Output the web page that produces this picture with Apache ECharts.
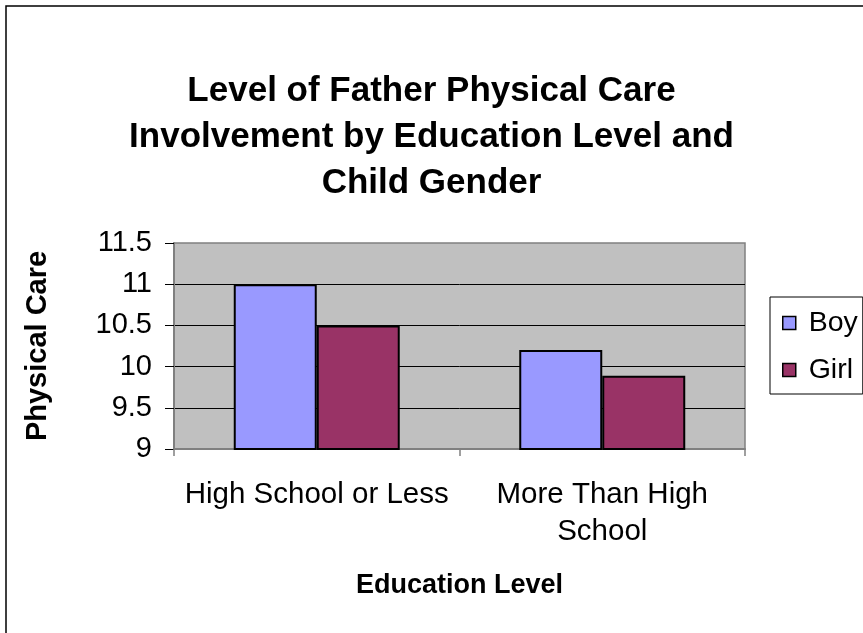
<!DOCTYPE html>
<html>
<head>
<meta charset="utf-8">
<script src="https://cdn.jsdelivr.net/npm/echarts@6/dist/echarts.min.js"></script>
<style>
html,body{margin:0;padding:0;background:#fff;}
#main{width:863px;height:633px;}
</style>
</head>
<body>
<div id="main"></div>
<script>
const categories = ['High School or Less', 'More Than High\nSchool'];
const boyValues = [11.0, 10.2];
const girlValues = [10.5, 9.89];
const seriesNames = ['Boy', 'Girl'];
const yMin = 9, yMax = 11.5, yInterval = 0.5;

const FONT = "'Liberation Sans', Arial, sans-serif";
const chart = echarts.init(document.getElementById('main'), null, {renderer: 'canvas'});
chart.setOption({
  animation: false,
  backgroundColor: '#ffffff',
  textStyle: {fontFamily: FONT, color: '#000'},
  title: {
    text: 'Level of Father Physical Care\nInvolvement by Education Level and\nChild Gender',
    left: 'center',
    top: 63,
    textStyle: {fontFamily: FONT, fontSize: 35, fontWeight: 'bold', color: '#000', lineHeight: 46}
  },
  graphic: [{
    type: 'rect',
    shape: {x: 6, y: 6, width: 900, height: 700},
    style: {fill: 'none', stroke: '#000', lineWidth: 1.5},
    silent: true, z: 100
  }],
  legend: {
    orient: 'vertical',
    left: 770,
    top: 297,
    padding: [11, 5, 9, 12],
    itemGap: 17,
    itemWidth: 13,
    itemHeight: 13,
    itemStyle: {borderColor: '#000', borderWidth: 1.5},
    borderColor: '#000',
    borderWidth: 1,
    icon: 'rect',
    formatter: function (n) { return ' ' + n; },
    textStyle: {fontFamily: FONT, fontSize: 28.5, color: '#000', lineHeight: 30},
    data: seriesNames
  },
  grid: {
    left: 174, right: 118, top: 243, bottom: 184,
    show: true, backgroundColor: '#C0C0C0', borderColor: '#808080', borderWidth: 1.5
  },
  xAxis: {
    type: 'category',
    data: categories,
    name: 'Education Level',
    nameLocation: 'middle',
    nameGap: 123,
    nameTextStyle: {fontFamily: FONT, fontSize: 27, fontWeight: 'bold', color: '#000'},
    axisLine: {lineStyle: {color: '#808080', width: 2}},
    axisTick: {show: true, length: 7, lineStyle: {color: '#808080', width: 1.5}},
    axisLabel: {fontFamily: FONT, fontSize: 29.5, color: '#000', margin: 27, lineHeight: 37, interval: 0, hideOverlap: false}
  },
  yAxis: {
    type: 'value',
    min: yMin, max: yMax, interval: yInterval,
    name: 'Physical Care',
    nameLocation: 'middle',
    nameGap: 122,
    nameRotate: 90,
    nameTextStyle: {fontFamily: FONT, fontSize: 29, fontWeight: 'bold', color: '#000'},
    axisLine: {show: true, lineStyle: {color: '#808080', width: 2}},
    axisTick: {show: true, length: 9, lineStyle: {color: '#000', width: 1}},
    axisLabel: {fontFamily: FONT, fontSize: 29, color: '#000', margin: 22},
    splitLine: {show: true, showMinLine: false, showMaxLine: false, lineStyle: {color: '#000', width: 1}}
  },
  series: [
    {
      name: seriesNames[0], type: 'bar', data: boyValues,
      barWidth: 83, barGap: '0%',
      itemStyle: {color: '#9999FF', borderColor: '#000', borderWidth: 2}
    },
    {
      name: seriesNames[1], type: 'bar', data: girlValues,
      barWidth: 83, barGap: '0%',
      itemStyle: {color: '#993366', borderColor: '#000', borderWidth: 2}
    }
  ]
});
</script>
</body>
</html>
